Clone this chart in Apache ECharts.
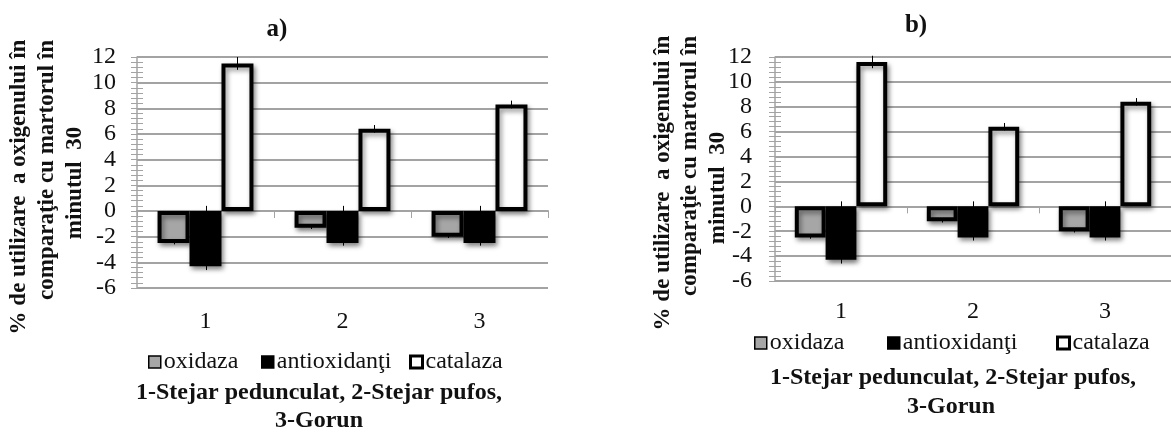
<!DOCTYPE html>
<html>
<head>
<meta charset="utf-8">
<script src="https://cdn.jsdelivr.net/npm/echarts@6/dist/echarts.min.js"></script>
<style>
html,body{margin:0;padding:0;background:#fff;}
#chart{width:1171px;height:434px;}
</style>
</head>
<body>
<div id="chart"></div>
<script>
// ---- data ----
var categories = ['1', '2', '3'];
var seriesNames = ['oxidaza', 'antioxidanţi', 'catalaza'];
var yTicks = { min: -6, max: 12, interval: 2 };

// chart a)
var oxidazaA = [-2.5, -1.3, -2.0];
var antioxA = [-4.3, -2.5, -2.5];
var catalazaA = [11.5, 6.4, 8.3];
var oxidazaErrA = [[0.1, 0.1], [0.1, 0.1], [0.1, 0.1]];     // [plus, minus]
var antioxErrA = [[4.7, 0.3], [2.9, 0.2], [2.9, 0.2]];
var catalazaErrA = [[0.5, 0.5], [0.3, 0.3], [0.3, 0.3]];

// chart b)
var oxidazaB = [-2.5, -1.2, -2.0];
var antioxB = [-4.3, -2.5, -2.5];
var catalazaB = [11.6, 6.4, 8.4];
var oxidazaErrB = [[0.1, 0.1], [0.1, 0.1], [0.1, 0.1]];
var antioxErrB = [[4.7, 0.3], [2.9, 0.25], [2.9, 0.25]];
var catalazaErrB = [[0.5, 0.5], [0.3, 0.3], [0.3, 0.3]];

var yTitleLines = ['% de utilizare  a oxigenului în', 'comparaţie cu martorul în', 'minutul  30'];
var footerLines = ['1-Stejar pedunculat, 2-Stejar pufos,', '3-Gorun'];
var panelTitles = ['a)', 'b)'];

// ---- styles ----
var FONT = '"Liberation Serif", "Times New Roman", serif';
var GRID_COLOR = '#a3a3a3';
var fills = ['#a6a6a6', '#000000', '#ffffff'];
var BAR_GAP_CAT = 0.3;
var TICK_FS = 24;

var chart = echarts.init(document.getElementById('chart'), null, { renderer: 'canvas' });

function xAxes(gridIndex, labelMargin) {
  return [
    { // axis on zero with ticks between categories
      type: 'category', gridIndex: gridIndex, data: categories, boundaryGap: true,
      axisLine: { show: true, onZero: true, lineStyle: { color: GRID_COLOR, width: 2 } },
      axisTick: { show: true, inside: false, length: 7, lineStyle: { color: GRID_COLOR, width: 1 } },
      axisLabel: { show: false }, splitLine: { show: false }
    },
    { // labels at bottom
      type: 'category', gridIndex: gridIndex, data: categories, position: 'bottom',
      axisLine: { show: false, onZero: false }, axisTick: { show: false },
      axisLabel: { show: true, margin: labelMargin, fontFamily: FONT, fontSize: TICK_FS, color: '#111' },
      splitLine: { show: false }
    }
  ];
}
function yAxes(gridIndex, labelMargin) {
  return [
    {
      type: 'value', gridIndex: gridIndex, min: yTicks.min, max: yTicks.max, interval: yTicks.interval,
      axisLine: { show: true, onZero: false, lineStyle: { color: GRID_COLOR, width: 1.5 } },
      axisTick: { show: true, inside: false, length: 6, lineStyle: { color: GRID_COLOR, width: 1 } },
      minorTick: { show: true, splitNumber: 5, length: 6, lineStyle: { color: GRID_COLOR, width: 1 } },
      axisLabel: { margin: labelMargin, fontFamily: FONT, fontSize: TICK_FS, color: '#111' },
      splitLine: { show: true, lineStyle: { color: GRID_COLOR, width: 2 } }
    },
    {
      type: 'value', gridIndex: gridIndex, min: yTicks.min, max: yTicks.max, interval: yTicks.interval,
      position: 'left',
      axisLine: { show: false, onZero: false },
      axisTick: { show: true, inside: true, length: 6, lineStyle: { color: GRID_COLOR, width: 1 } },
      minorTick: { show: true, splitNumber: 5, length: 6, lineStyle: { color: GRID_COLOR, width: 1 } },
      axisLabel: { show: false }, splitLine: { show: false }
    }
  ];
}

function barSeries(name, values, idx, xAxisIndex, yAxisIndex) {
  return {
    type: 'bar', name: name, data: values, xAxisIndex: xAxisIndex, yAxisIndex: yAxisIndex,
    barGap: '0%', barCategoryGap: (BAR_GAP_CAT * 100) + '%', z: 3,
    itemStyle: {
      color: fills[idx], borderColor: '#000', borderWidth: 4,
      shadowBlur: 5, shadowColor: 'rgba(0,0,0,0.45)', shadowOffsetX: 2, shadowOffsetY: 3
    },
    emphasis: { disabled: true }
  };
}
function errSeries(values, errs, idx, xAxisIndex, yAxisIndex) {
  var data = values.map(function (v, i) { return [i, v + errs[i][0], v - errs[i][1]]; });
  return {
    type: 'custom', xAxisIndex: xAxisIndex, yAxisIndex: yAxisIndex, z: 10, silent: true,
    data: data,
    renderItem: function (params, api) {
      var cat = api.value(0);
      var band = api.size([1, 0])[0];
      var bw = band * (1 - BAR_GAP_CAT) / 3;
      var c = api.coord([cat, 0]);
      var x = Math.round(c[0] + (idx - 1) * bw) + 0.5;
      var p1 = api.coord([cat, api.value(1)]);
      var p2 = api.coord([cat, api.value(2)]);
      return { type: 'line', shape: { x1: x, y1: p1[1], x2: x, y2: p2[1] },
        style: { stroke: '#000', lineWidth: 1 } };
    }
  };
}

var panels = [
  { vals: [oxidazaA, antioxA, catalazaA], errs: [oxidazaErrA, antioxErrA, catalazaErrA] },
  { vals: [oxidazaB, antioxB, catalazaB], errs: [oxidazaErrB, antioxErrB, catalazaErrB] }
];

var series = [];
panels.forEach(function (p, g) {
  var xi = g * 2, yi = g * 2;
  for (var k = 0; k < 3; k++) series.push(barSeries(seriesNames[k], p.vals[k], k, xi, yi));
  for (var k2 = 0; k2 < 3; k2++) series.push(errSeries(p.vals[k2], p.errs[k2], k2, xi, yi));
});

var legendIconStyles = [
  { color: fills[0], borderColor: '#000', borderWidth: 1.5 },
  { color: fills[1], borderColor: '#000', borderWidth: 1.5 },
  { color: fills[2], borderColor: '#000', borderWidth: 3 }
];
function legendItem(k, left, top) {
  return {
    left: left, top: top, padding: 0, itemWidth: 12, itemHeight: 12, itemGap: 0,
    icon: 'rect', selectedMode: false,
    data: [{ name: seriesNames[k], itemStyle: legendIconStyles[k] }],
    textStyle: { fontFamily: FONT, fontSize: 24, color: '#111', padding: [0, 0, 0, -2] }
  };
}
var legends = [
  legendItem(0, 148, 350), legendItem(1, 261, 350), legendItem(2, 409, 350),
  legendItem(0, 754, 331), legendItem(1, 887, 331), legendItem(2, 1056, 331)
];

function vText(text, x, y) {
  return { type: 'text', x: x, y: y, rotation: Math.PI / 2, silent: true,
    style: { text: text, fontFamily: FONT, fontWeight: 'bold', fontSize: 23, fill: '#111',
      align: 'center', verticalAlign: 'middle' } };
}
function hText(text, x, y, size) {
  return { type: 'text', x: x, y: y, silent: true,
    style: { text: text, fontFamily: FONT, fontWeight: 'bold', fontSize: size, fill: '#111',
      align: 'center', verticalAlign: 'middle' } };
}

var graphics = [
  hText(panelTitles[0], 277, 30, 25),
  hText(panelTitles[1], 916, 26, 25),
  vText(yTitleLines[0], 19, 187), vText(yTitleLines[1], 47, 170), vText(yTitleLines[2], 75, 183),
  vText(yTitleLines[0], 663, 183), vText(yTitleLines[1], 690, 166), vText(yTitleLines[2], 718, 188),
  hText(footerLines[0], 319, 393, 24), hText(footerLines[1], 319, 421, 24),
  hText(footerLines[0], 953, 378, 24), hText(footerLines[1], 951, 407, 24)
];

var option = {
  backgroundColor: '#ffffff',
  animation: false,
  grid: [
    { left: 137, top: 57, width: 411, height: 231 },
    { left: 775, top: 57, width: 408, height: 224 }
  ],
  xAxis: xAxes(0, 22).concat(xAxes(1, 19)),
  yAxis: yAxes(0, 21).concat(yAxes(1, 23)),
  legend: legends,
  series: series,
  graphic: graphics
};
chart.setOption(option);
</script>
</body>
</html>
